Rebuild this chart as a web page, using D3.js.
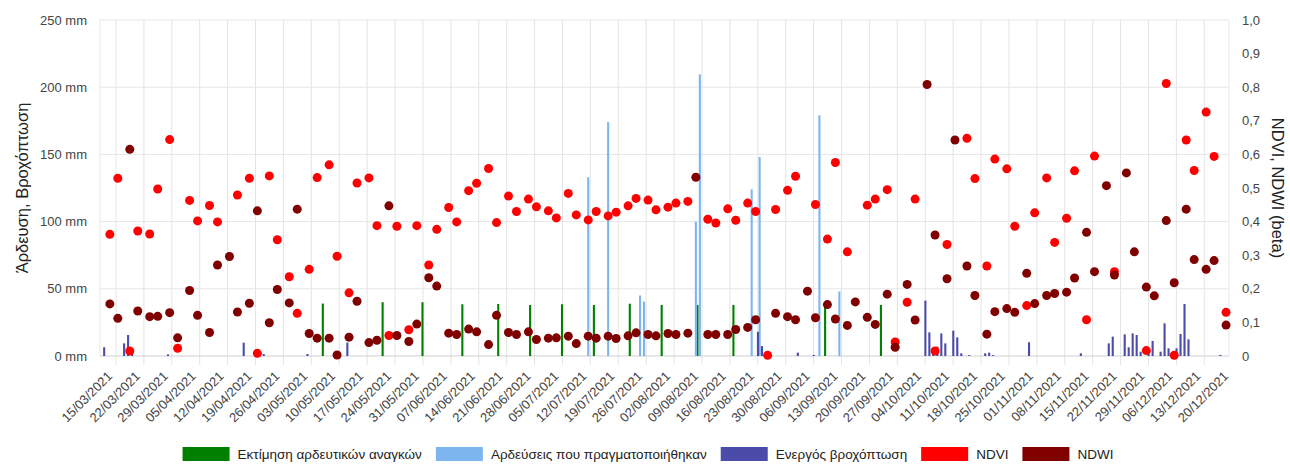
<!DOCTYPE html>
<html>
<head>
<meta charset="utf-8">
<script src="https://cdn.jsdelivr.net/npm/d3@7"></script>
<style>
    body { margin: 0; background: #fff; }
    text { font-family: "Liberation Sans", Arial, sans-serif; }
</style>
</head>
<body>
<svg id="chart"></svg>
<script>
// Satellite observation dates and the index values read for them
const obsDates = [
    "13/03/2021", "15/03/2021", "18/03/2021", "20/03/2021", "23/03/2021", "25/03/2021", "28/03/2021", "30/03/2021",
    "02/04/2021", "04/04/2021", "07/04/2021", "09/04/2021", "12/04/2021", "14/04/2021", "17/04/2021", "19/04/2021",
    "22/04/2021", "24/04/2021", "27/04/2021", "29/04/2021", "02/05/2021", "04/05/2021", "07/05/2021", "09/05/2021",
    "12/05/2021", "14/05/2021", "17/05/2021", "19/05/2021", "22/05/2021", "24/05/2021", "27/05/2021", "29/05/2021",
    "01/06/2021", "03/06/2021", "06/06/2021", "08/06/2021", "11/06/2021", "13/06/2021", "16/06/2021", "18/06/2021",
    "21/06/2021", "23/06/2021", "26/06/2021", "28/06/2021", "01/07/2021", "03/07/2021", "06/07/2021", "08/07/2021",
    "11/07/2021", "13/07/2021", "16/07/2021", "18/07/2021", "21/07/2021", "23/07/2021", "26/07/2021", "28/07/2021",
    "31/07/2021", "02/08/2021", "05/08/2021", "07/08/2021", "10/08/2021", "12/08/2021", "15/08/2021", "17/08/2021",
    "20/08/2021", "22/08/2021", "25/08/2021", "27/08/2021", "30/08/2021", "01/09/2021", "04/09/2021", "06/09/2021",
    "09/09/2021", "11/09/2021", "14/09/2021", "16/09/2021", "19/09/2021", "21/09/2021", "24/09/2021", "26/09/2021",
    "29/09/2021", "01/10/2021", "04/10/2021", "06/10/2021", "09/10/2021", "11/10/2021", "14/10/2021", "16/10/2021",
    "19/10/2021", "21/10/2021", "24/10/2021", "26/10/2021", "29/10/2021", "31/10/2021", "03/11/2021", "05/11/2021",
    "08/11/2021", "10/11/2021", "13/11/2021", "15/11/2021", "18/11/2021", "20/11/2021", "23/11/2021", "25/11/2021",
    "28/11/2021", "30/11/2021", "03/12/2021", "05/12/2021", "08/12/2021", "10/12/2021", "13/12/2021", "15/12/2021",
    "18/12/2021"
];
const ndvi = [
    0.362, 0.529, 0.015, 0.372, 0.363, 0.497, 0.644, 0.023,
    0.463, 0.402, 0.448, 0.399, null, 0.479, 0.529, 0.008,
    0.536, 0.346, 0.236, 0.127, 0.258, 0.531, 0.569, 0.297,
    0.188, 0.515, 0.530, 0.388, 0.061, 0.386, 0.078, 0.388,
    0.271, 0.377, 0.442, 0.399, 0.492, 0.514, 0.558, 0.397,
    0.476, 0.430, 0.467, 0.444, 0.432, 0.411, 0.484, 0.420,
    0.405, 0.430, 0.417, 0.428, 0.447, 0.469, 0.464, 0.435,
    0.443, 0.455, 0.460, null, 0.407, 0.396, 0.438, 0.404,
    0.455, 0.430, 0.002, 0.436, 0.493, 0.535, null, 0.451,
    0.348, 0.576, 0.310, null, 0.449, 0.467, 0.495, 0.042,
    0.160, 0.467, null, 0.015, 0.332, null, 0.648, 0.528,
    0.268, 0.586, 0.557, 0.386, 0.150, 0.426, 0.530, 0.338,
    0.410, 0.551, 0.108, 0.595, null, 0.251, null, null,
    0.016, null, 0.811, 0.002, 0.643, 0.552, 0.726, 0.594,
    0.130
];
const ndwi = [
    0.155, 0.112, 0.615, 0.134, 0.117, 0.118, 0.129, 0.054,
    0.195, 0.121, 0.070, 0.271, 0.296, 0.131, 0.157, 0.432,
    0.099, 0.198, 0.158, 0.437, 0.067, 0.053, 0.053, 0.003,
    0.056, 0.163, 0.040, 0.047, 0.447, 0.061, 0.043, 0.095,
    0.233, 0.208, 0.068, 0.064, 0.080, 0.072, 0.034, 0.121,
    0.070, 0.064, 0.072, 0.049, 0.053, 0.054, 0.059, 0.037,
    0.059, 0.053, 0.059, 0.052, 0.060, 0.069, 0.064, 0.060,
    0.067, 0.064, 0.068, 0.532, 0.064, 0.064, 0.064, 0.079,
    0.085, 0.108, null, 0.127, 0.117, 0.108, 0.193, 0.114,
    0.153, 0.110, 0.091, 0.161, 0.115, 0.094, 0.184, 0.026,
    0.213, 0.107, 0.808, 0.360, 0.230, 0.643, 0.268, 0.180,
    0.065, 0.132, 0.141, 0.130, 0.246, 0.156, 0.180, 0.186,
    0.190, 0.232, 0.368, 0.251, 0.507, 0.241, 0.545, 0.310,
    0.205, 0.179, 0.403, 0.218, 0.437, 0.287, 0.258, 0.284,
    0.092
];

// Irrigation needs estimate (mm)
const needDates = [
    "06/05/2021", "21/05/2021", "31/05/2021", "10/06/2021", "19/06/2021", "27/06/2021", "05/07/2021",
    "13/07/2021", "22/07/2021", "30/07/2021", "08/08/2021", "17/08/2021", "09/09/2021", "23/09/2021"
];
const needValues = [39, 40, 40, 38.5, 38.7, 38, 38.5, 38, 38.9, 38, 38, 38, 38, 38];

// Irrigations performed (mm)
const irrDates = [
    "11/07/2021", "16/07/2021", "24/07/2021", "25/07/2021", "07/08/2021",
    "08/08/2021", "21/08/2021", "23/08/2021", "07/09/2021", "12/09/2021"
];
const irrValues = [133, 174, 45, 40.5, 100, 209.5, 124, 148, 179, 48];

// Effective rainfall (mm)
const rainDates = [
    "11/03/2021", "16/03/2021", "17/03/2021", "18/03/2021", "27/03/2021", "15/04/2021", "20/04/2021",
    "01/05/2021", "11/05/2021", "22/08/2021", "23/08/2021", "01/09/2021", "05/09/2021", "03/10/2021",
    "04/10/2021", "05/10/2021", "06/10/2021", "07/10/2021", "08/10/2021", "10/10/2021", "11/10/2021",
    "12/10/2021", "14/10/2021", "18/10/2021", "19/10/2021", "20/10/2021", "29/10/2021", "11/11/2021",
    "18/11/2021", "19/11/2021", "22/11/2021", "23/11/2021", "24/11/2021", "25/11/2021", "26/11/2021",
    "28/11/2021", "29/11/2021", "01/12/2021", "02/12/2021", "03/12/2021", "05/12/2021", "06/12/2021",
    "07/12/2021", "08/12/2021", "16/12/2021"
];
const rainValues = [
    6.5, 9.4, 15.6, 5.7, 1.2, 9.9, 1.5,
    1.5, 10, 18, 7.4, 2.5, 0.8, 41.2,
    17.6, 5.7, 7, 16.8, 9.4, 18.9, 13.9,
    2, 0.7, 2, 2.5, 0.7, 10.2, 2,
    9.4, 14.4, 16.1, 6.5, 16.8, 15.6, 3.2,
    4.5, 11.2, 3.2, 24.3, 5.7, 5.7, 16.4,
    38.7, 12.4, 0.8
];

// Axis ticks
const mmTicks = [0, 50, 100, 150, 200, 250];
const indexTicks = [0, 0.1, 0.2, 0.3, 0.4, 0.5, 0.6, 0.7, 0.8, 0.9, 1.0];

const legendItems = [
    { label: "Εκτίμηση αρδευτικών αναγκών", color: "#008000" },
    { label: "Αρδεύσεις που πραγματοποιήθηκαν", color: "#7db6ee" },
    { label: "Ενεργός βροχόπτωση", color: "#4b4ba9" },
    { label: "NDVI", color: "#ff0000" },
    { label: "NDWI", color: "#800000" }
];

const dimensions = {
    width: 1290,
    height: 468,
    marginLeft: 100,
    marginRight: 61,
    marginTop: 20,
    marginBottom: 112
};

// acquisitions and daily values are stamped around late morning
const sampleHour = 11;
const parseDay = d3.timeParse("%d/%m/%Y");
function toTime(s) {
    const d = parseDay(s);
    d.setHours(sampleHour);
    return d;
}

/**
 * comboChart
 *
 * Draws the bars (needs, irrigation, rain) on the mm axis and the
 * NDVI / NDWI points on the right hand index axis.
 */
function comboChart(id) {
    const left = dimensions.marginLeft;
    const right = dimensions.width - dimensions.marginRight;
    const top = dimensions.marginTop;
    const bottom = dimensions.height - dimensions.marginBottom;

    const svg = d3.select("#" + id)
        .attr("width", dimensions.width)
        .attr("height", dimensions.height);

    // Time scale, weekly ticks every monday
    let x = d3.scaleTime()
        .domain([new Date(2021, 2, 15), new Date(2021, 11, 20)])
        .range([116, 1232.2]);

    let y = d3.scaleLinear().domain([0, 250]).range([bottom, top]);
    let y2 = d3.scaleLinear().domain([0, 1]).range([bottom, top]);

    let weeks = d3.timeMonday.range(new Date(2021, 2, 15), new Date(2021, 11, 21));

    // Grid
    let grid = svg.append("g");
    grid.selectAll("line.v")
        .data(weeks.filter(d => x(d) <= right))
        .enter()
        .append("line")
        .attr("x1", d => x(d)).attr("x2", d => x(d))
        .attr("y1", top).attr("y2", bottom + 9)
        .attr("stroke", "#e4e4e4");
    grid.selectAll("line.edge")
        .data([left, right])
        .enter()
        .append("line")
        .attr("x1", d => d).attr("x2", d => d)
        .attr("y1", top).attr("y2", bottom)
        .attr("stroke", "#e8e8e8");
    grid.selectAll("line.h")
        .data(mmTicks)
        .enter()
        .append("line")
        .attr("x1", left).attr("x2", right)
        .attr("y1", d => y(d)).attr("y2", d => y(d))
        .attr("stroke", d => d === 0 ? "#cfcfcf" : "#e6e6e6");

    // Left axis labels
    svg.append("g")
        .selectAll("text")
        .data(mmTicks)
        .enter()
        .append("text")
        .attr("x", left - 13)
        .attr("y", d => y(d))
        .attr("dy", "0.35em")
        .attr("text-anchor", "end")
        .style("font-size", "13px")
        .attr("fill", "#444")
        .text(d => d + " mm");

    // Right axis labels
    svg.append("g")
        .selectAll("text")
        .data(indexTicks)
        .enter()
        .append("text")
        .attr("x", right + 13)
        .attr("y", d => y2(d))
        .attr("dy", "0.35em")
        .style("font-size", "13px")
        .attr("fill", "#444")
        .text(d => d === 0 ? "0" : d.toFixed(1).replace(".", ","));

    // Axis titles
    svg.append("text")
        .attr("transform", `translate(22, ${(top + bottom) / 2}) rotate(-90)`)
        .attr("text-anchor", "middle")
        .attr("dy", "0.35em")
        .style("font-size", "16.5px")
        .attr("fill", "#222")
        .text("Άρδευση, Βροχόπτωση");

    svg.append("text")
        .attr("transform", `translate(1278, ${(top + bottom) / 2}) rotate(90)`)
        .attr("text-anchor", "middle")
        .attr("dy", "0.35em")
        .style("font-size", "16.5px")
        .attr("fill", "#222")
        .text("NDVI, NDWI (beta)");

    // Date labels
    const fmt = d3.timeFormat("%d/%m/%Y");
    svg.append("g")
        .selectAll("text")
        .data(weeks)
        .enter()
        .append("text")
        .attr("transform", d => `translate(${x(d) - 3}, 377) rotate(-45)`)
        .attr("text-anchor", "end")
        .style("font-size", "13px")
        .attr("fill", "#444")
        .text(d => fmt(d));

    // Bars, three per day side by side
    const barW = 2.1;
    const barSeries = [
        { dates: needDates, values: needValues, color: legendItems[0].color, shift: -2.3 },
        { dates: irrDates, values: irrValues, color: legendItems[1].color, shift: 0 },
        { dates: rainDates, values: rainValues, color: legendItems[2].color, shift: 2.3 }
    ];
    barSeries.forEach(s => {
        let rows = s.dates.map((d, i) => [toTime(d), s.values[i]]);
        svg.append("g")
            .selectAll("rect")
            .data(rows)
            .enter()
            .append("rect")
            .attr("x", d => x(d[0]) + s.shift - barW / 2)
            .attr("width", barW)
            .attr("y", d => y(d[1]))
            .attr("height", d => y(0) - y(d[1]))
            .attr("fill", s.color);
    });

    // Index points
    const radius = 4.5;
    [[ndvi, legendItems[3].color], [ndwi, legendItems[4].color]].forEach(([vals, color]) => {
        let rows = obsDates.map((d, i) => [toTime(d), vals[i]]).filter(r => r[1] !== null);
        svg.append("g")
            .selectAll("circle")
            .data(rows)
            .enter()
            .append("circle")
            .attr("r", radius)
            .attr("fill", color)
            .attr("cx", d => x(d[0]))
            .attr("cy", d => y2(d[1]));
    });

    // Legend, centred under the chart
    let legend = svg.append("g");
    let cursor = 0;
    legendItems.forEach(item => {
        let g = legend.append("g").attr("transform", `translate(${cursor}, 0)`);
        g.append("rect")
            .attr("x", 0).attr("y", 447)
            .attr("width", 47).attr("height", 14)
            .attr("fill", item.color);
        let t = g.append("text")
            .attr("x", 55).attr("y", 454)
            .attr("dy", "0.35em")
            .style("font-size", "13.5px")
            .attr("fill", "#222")
            .text(item.label);
        cursor += 55 + t.node().getComputedTextLength() + 14;
    });
    legend.attr("transform", `translate(${648 - (cursor - 14) / 2}, 0)`);
}

comboChart("chart");
</script>
</body>
</html>
